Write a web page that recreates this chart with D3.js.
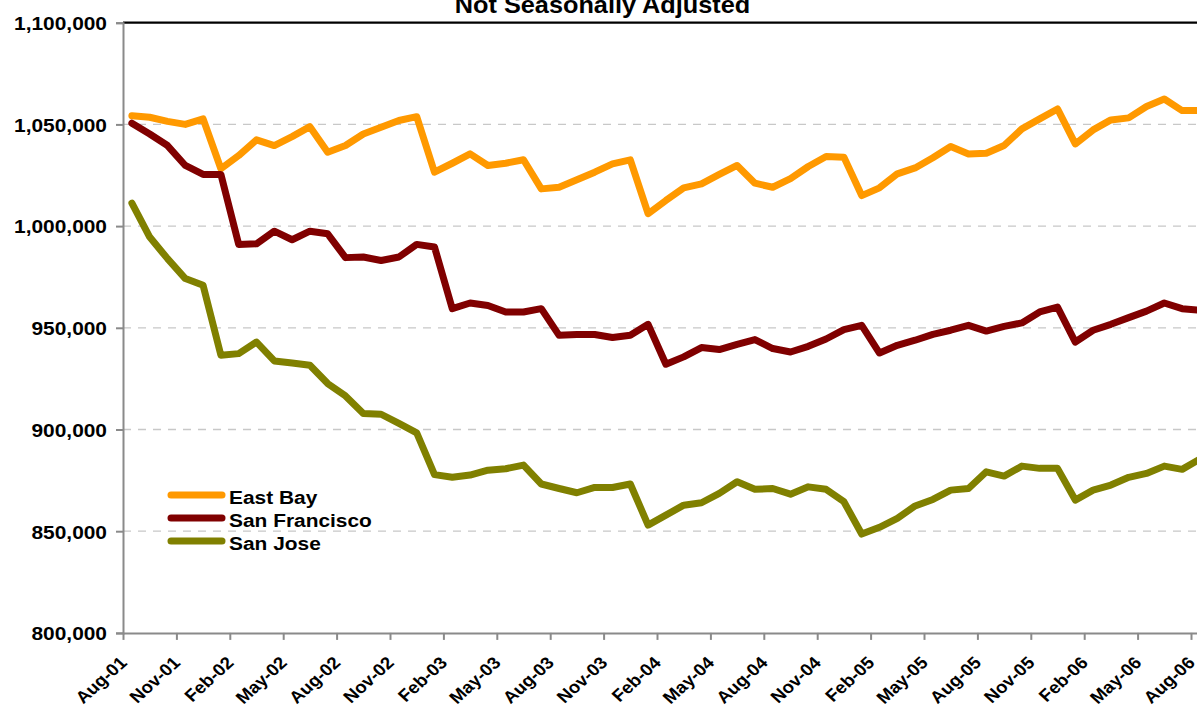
<!DOCTYPE html>
<html>
<head>
<meta charset="utf-8">
<script src="https://cdn.jsdelivr.net/npm/d3@7"></script>
<style>
  html, body { margin: 0; padding: 0; background: #fff; overflow: hidden; }
  svg { display: block; font-family: Arial, "Liberation Sans", sans-serif; }
</style>
</head>
<body>
<svg id="chart" width="1197" height="711"></svg>
<script>
// Monthly nonfarm jobs, Aug-01 through Aug-06 (not seasonally adjusted)
const startMonth = new Date(2001, 7, 1);
const seriesNames = ["East Bay", "San Francisco", "San Jose"];
const seriesColors = ["#FF9900", "#800000", "#808000"];

const eastBay = [
  1054300, 1053500, 1051500, 1050000, 1052700, 1028200, 1034700, 1042400, 1039600, 1044000,
  1048900, 1036300, 1039600, 1045300, 1048600, 1051900, 1053800, 1026500, 1030900, 1035500,
  1029800, 1030900, 1032600, 1018300, 1019100, 1022800, 1026500, 1030600, 1032600, 1006100,
  1012600, 1018800, 1020800, 1025400, 1029800, 1021100, 1019100, 1023300, 1029300, 1034200,
  1033900, 1015000, 1018800, 1025700, 1028600, 1033600, 1039100, 1035500, 1035800, 1039600,
  1047800, 1052700, 1057600, 1040400, 1047300, 1052200, 1053200, 1058800, 1062500, 1056800,
  1056800
];
const sanFrancisco = [
  1050600, 1045300, 1039600, 1029800, 1025400, 1025400, 991000, 991300, 997500, 993300,
  997500, 996200, 984500, 984800, 983100, 984800, 991000, 989700, 959400, 962200,
  961000, 957800, 957800, 959400, 946300, 946700, 946700, 945200, 946300, 951700,
  932100, 935700, 940300, 939300, 941900, 944200, 939800, 938100, 940900, 944500,
  949100, 951200, 937600, 941400, 943900, 946800, 948800, 951200, 948400, 950700,
  952400, 957800, 960200, 943000, 948800, 951700, 955000, 958200, 962200, 959400,
  958600
];
const sanJose = [
  1011300, 994600, 984000, 974200, 970900, 936500, 937300, 943000, 933700, 932700,
  931600, 922600, 916500, 907900, 907500, 903000, 898300, 877800, 876500, 877600,
  880000, 880700, 882500, 873200, 871000, 868900, 871500, 871500, 873200, 853000,
  857900, 862800, 864000, 868600, 874300, 870600, 871000, 868200, 871800, 870600,
  864500, 848600, 851900, 856300, 862400, 865600, 870200, 871000, 879200, 877100,
  882000, 880900, 880900, 865300, 870200, 872700, 876500, 878400, 882000, 880400,
  885500
];
const yTicks = [800000, 850000, 900000, 950000, 1000000, 1050000, 1100000];
const titleText = "Not Seasonally Adjusted";

const seriesValues = [eastBay, sanFrancisco, sanJose];
const months = d3.timeMonth.range(startMonth, d3.timeMonth.offset(startMonth, eastBay.length));
const fmtMonth = d3.timeFormat("%b-%y");

const svg = d3.select("#chart");
const plotLeft = 123, plotTop = 22.7, plotBottom = 632.9, slot = 17.8;
const plotRight = plotLeft + months.length * slot;
const stretch = 1.1;
const axisGray = "#8a8a8a";

// Category axis: each month occupies one slot, points sit in the slot middle
const x = d3.scaleLinear().domain([0, months.length]).range([plotLeft, plotRight]);
const y = d3.scaleLinear().domain([800000, 1100000]).range([plotBottom, plotTop]);

// Dashed horizontal gridlines
svg.append("g")
  .selectAll("line")
  .data(yTicks.filter(v => v > 800000 && v < 1100000))
  .join("line")
  .attr("x1", plotLeft).attr("x2", plotRight)
  .attr("y1", d => y(d)).attr("y2", d => y(d))
  .attr("stroke", "#c8c8c8").attr("stroke-width", 1.3)
  .attr("stroke-dasharray", "8,7");

// Top frame line
svg.append("line")
  .attr("x1", plotLeft).attr("x2", plotRight)
  .attr("y1", y(1100000)).attr("y2", y(1100000))
  .attr("stroke", "#000").attr("stroke-width", 2.2);

// Y axis
const yAxis = svg.append("g")
  .attr("transform", `translate(${plotLeft},0)`)
  .call(d3.axisLeft(y).tickValues(yTicks).tickSize(7).tickFormat(d3.format(",")));
yAxis.select(".domain").attr("stroke", axisGray).attr("stroke-width", 2);
yAxis.selectAll(".tick line").attr("stroke", axisGray).attr("stroke-width", 2);
yAxis.selectAll(".tick text")
  .attr("x", null).attr("dy", null)
  .attr("font-size", 19).attr("font-weight", "bold").attr("fill", "#000")
  .attr("font-family", "Arial, 'Liberation Sans', sans-serif")
  .attr("text-anchor", "end")
  .attr("transform", `translate(-16,6.8) scale(${stretch},1)`);

// X axis: ticks every three months on slot boundaries
const xTickIdx = d3.range(0, months.length, 3);
const xAxis = svg.append("g")
  .attr("transform", `translate(0,${plotBottom})`)
  .call(d3.axisBottom(x).tickValues(xTickIdx).tickSize(7).tickSizeOuter(0).tickFormat(() => ""));
xAxis.select(".domain").attr("stroke", axisGray).attr("stroke-width", 2);
xAxis.selectAll(".tick line").attr("stroke", axisGray).attr("stroke-width", 2);
xAxis.selectAll(".tick text").remove();

svg.append("g")
  .selectAll("text")
  .data(xTickIdx)
  .join("text")
  .attr("transform", i => `translate(${x(i) + 5},${plotBottom + 31}) scale(${stretch},1) rotate(-45)`)
  .attr("text-anchor", "end")
  .attr("font-size", 17).attr("font-weight", "bold").attr("fill", "#000")
  .text(i => fmtMonth(months[i]));

// Series lines
const line = d3.line()
  .x((d, i) => x(i + 0.5))
  .y(d => y(d));

svg.append("g")
  .selectAll("path")
  .data(seriesValues)
  .join("path")
  .attr("d", line)
  .attr("fill", "none")
  .attr("stroke", (d, i) => seriesColors[i])
  .attr("stroke-width", 7)
  .attr("stroke-linejoin", "round")
  .attr("stroke-linecap", "round");

// Legend
const legend = svg.append("g").attr("transform", "translate(171,495)");
const item = legend.selectAll("g")
  .data(seriesNames)
  .join("g")
  .attr("transform", (d, i) => `translate(0,${i * 23})`);
item.append("line")
  .attr("x1", 0).attr("x2", 51).attr("y1", 0).attr("y2", 0)
  .attr("stroke", (d, i) => seriesColors[i])
  .attr("stroke-width", 7).attr("stroke-linecap", "round");
item.append("text")
  .attr("transform", `translate(58,9) scale(${stretch},1)`)
  .attr("font-size", 19).attr("font-weight", "bold").attr("fill", "#000")
  .text(d => d);

// Title (upper part is cut off by the frame)
svg.append("text")
  .attr("transform", `translate(602.5,13) scale(${stretch},1)`)
  .attr("text-anchor", "middle")
  .attr("font-size", 23).attr("font-weight", "bold").attr("fill", "#000")
  .text(titleText);
</script>
</body>
</html>
